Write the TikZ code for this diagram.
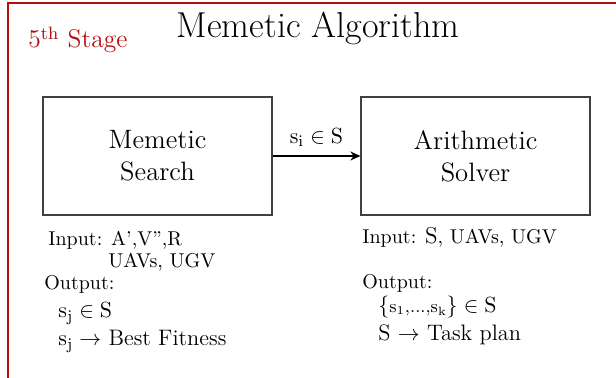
\documentclass[tikz,border=0pt]{standalone}
\usetikzlibrary{arrows.meta, positioning}
\definecolor{stagered}{rgb}{0.72, 0.05, 0.05}

\begin{document}
\begin{tikzpicture} [%
    x = 0.5pt,
    y = -0.5pt,
    >= { Stealth[length=5pt, width=4.5pt] },
    node distance = 159pt,
    on grid,
    every node/.style = { inner sep = 0pt },
    block/.style = {%
      draw = black!75,
      line width = 0.6pt,
      minimum width = 114.5pt,
      minimum height = 59pt,
      align = center,
      font = \fontsize{13.3}{16}\selectfont },
    info/.style = { anchor = base west, font = \normalsize },
    result/.style = { info, font = \fontsize{11.2}{13}\selectfont }
  ]

  \useasboundingbox (0,0) rectangle (616,378);

  % frame of the stage
  \draw[stagered, line width=0.7pt] (8,378) -- (8,3) -- (616,3);

  \node[font=\fontsize{18}{21}\selectfont, anchor=base] (title) at (318,38) {Memetic Algorithm};
  \node[font=\fontsize{12.8}{15}\selectfont, text=stagered, anchor=base west]
    (stage) at (28,48) {5\textsuperscript{th} Stage};

  \node[block] (search) at (157.5,156) {Memetic\\Search};
  \node[block] (solver) [right=of search] {Arithmetic\\Solver};

  \draw[->, line width=1pt] (search) --
    node[above=4pt, font=\fontsize{10.8}{12}\selectfont] (pass) {$\mathrm{s_i} \in \mathrm{S}$} (solver);

  % left side
  \node[info] (inA) at (48,246) {Input: A',V'',R};
  \node[info] (inB) at (108,268) {UAVs, UGV};
  \node[info] (outA) at (44,290) {Output:};
  \node[result] (outB) at (58,318) {$\mathrm{s_j} \in \mathrm{S}$};
  \node[result] (outC) at (58,346) {$\mathrm{s_j} \rightarrow$ Best Fitness};

  % right side
  \node[info] (inR) at (362,244) {Input: {\fontsize{11.5}{13}\selectfont S}, UAVs, UGV};
  \node[info] (outR) at (362,289) {Output:};
  \node[result] (setR) at (378,313)
    {$\{\mbox{\small s\textsubscript{1},...,s\textsubscript{k}}\} \in \mathrm{S}$};
  \node[result] (planR) at (378,341) {S $\rightarrow$ Task plan};

\end{tikzpicture}
\end{document}
